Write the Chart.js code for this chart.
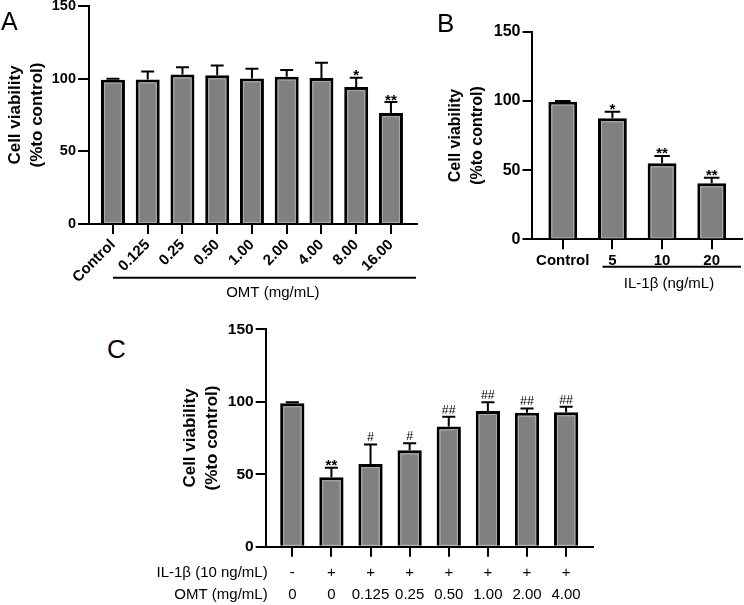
<!DOCTYPE html>
<html>
<head>
<meta charset="utf-8">
<script src="https://cdn.jsdelivr.net/npm/chart.js@4.4.1/dist/chart.umd.min.js"></script>
<style>
    body { margin: 0; background: #fff; }
    #page { position: relative; width: 744px; height: 605px; overflow: hidden; font-family: 'Liberation Sans', Arial, sans-serif; }
    canvas { position: absolute; }
    .letter { position: absolute; color: #000; }
</style>
</head>
<body>
<div id="page">
    <canvas id="chartA" width="420" height="300" style="left:0;top:0;width:420px;height:300px"></canvas>
    <canvas id="chartB" width="324" height="300" style="left:420px;top:0;width:324px;height:300px"></canvas>
    <canvas id="chartC" width="460" height="300" style="left:140px;top:305px;width:460px;height:300px"></canvas>
    <div class="letter" style="left:1px;top:9px;font-size:25px;line-height:25px">A</div>
    <div class="letter" style="left:437px;top:10px;font-size:26px;line-height:26px">B</div>
    <div class="letter" style="left:107px;top:336px;font-size:26px;line-height:26px">C</div>
</div>
<script>
// Shared axis
const yTicks = [0, 50, 100, 150];

// Panel A - OMT alone
const omtDoses = ['Control', '0.125', '0.25', '0.50', '1.00', '2.00', '4.00', '8.00', '16.00'];
const omtMeans = [99.3, 99.5, 102.8, 102.3, 100.2, 101.4, 100.5, 94.3, 76.3];
const omtErrors = [0.6, 5.5, 5.0, 6.7, 6.7, 4.6, 10.5, 6.4, 7.6];
const omtMarks = ['', '', '', '', '', '', '', '*', '**'];

// Panel B - IL-1beta alone
const il1bDoses = ['Control', '5', '10', '20'];
const il1bMeans = [99.4, 87.4, 54.9, 40.5];
const il1bErrors = [0.5, 4.8, 5.3, 4.0];
const il1bMarks = ['', '*', '**', '**'];

// Panel C - IL-1beta + OMT
const rescueIl1b = ['-', '+', '+', '+', '+', '+', '+', '+'];
const rescueOmt = ['0', '0', '0.125', '0.25', '0.50', '1.00', '2.00', '4.00'];
const rescueMeans = [99.0, 47.9, 57.0, 66.5, 83.0, 93.6, 92.4, 92.7];
const rescueErrors = [0.7, 6.6, 13.6, 4.8, 6.7, 6.0, 3.0, 3.9];
const rescueMarks = ['', '**', '#', '#', '##', '##', '##', '##'];

const FONT = "'Liberation Sans', Arial, sans-serif";
Chart.defaults.font.family = FONT;
Chart.defaults.color = '#000';

// Error bars, significance marks and group labels
function marksPlugin(p) {
    return {
        id: 'marks',
        afterDatasetsDraw(chart) {
            const { ctx, chartArea, scales: { x, y } } = chart;
            const bars = chart.getDatasetMeta(0).data;
            ctx.save();
            // light inner edge of each bar
            ctx.strokeStyle = '#ababab';
            ctx.lineWidth = 1;
            bars.forEach((bar) => {
                const w = bar.width;
                ctx.strokeRect(bar.x - w / 2 + 3.5, bar.y + 3.5, w - 7, bar.base - bar.y - 4);
            });
            ctx.strokeStyle = '#000';
            ctx.fillStyle = '#000';
            ctx.lineWidth = 2;
            ctx.textAlign = 'center';
            p.means.forEach((m, i) => {
                const bar = bars[i];
                const top = y.getPixelForValue(m + p.errors[i]);
                const half = bar.width * 0.27;
                ctx.beginPath();
                ctx.moveTo(bar.x, bar.y);
                ctx.lineTo(bar.x, top);
                ctx.moveTo(bar.x - half, top);
                ctx.lineTo(bar.x + half, top);
                ctx.stroke();
                const mark = p.marks[i];
                if (mark) {
                    const star = mark.includes('*');
                    ctx.font = star ? `bold 15px ${FONT}` : `12.5px ${FONT}`;
                    ctx.textBaseline = 'alphabetic';
                    ctx.fillText(mark, bar.x, star ? top + 2.5 : top - 3);
                }
            });
            ctx.font = `15px ${FONT}`;
            ctx.textBaseline = 'middle';
            if (p.group) {
                const g = p.group;
                const ly = chartArea.bottom + g.lineDy;
                ctx.beginPath();
                ctx.moveTo(x.getPixelForValue(g.from), ly);
                ctx.lineTo(chartArea.right - 1, ly);
                ctx.stroke();
                ctx.fillText(g.text, x.getPixelForValue(g.textAt), chartArea.bottom + g.textDy);
            }
            if (p.rows) {
                ctx.textAlign = 'right';
                p.rows.forEach((r, k) => {
                    ctx.fillText(r, chartArea.left + 2, chartArea.bottom + p.rowDy[k]);
                });
            }
            ctx.restore();
        }
    };
}

function buildPanel(id, p) {
    return new Chart(document.getElementById(id), {
        type: 'bar',
        data: {
            datasets: [{
                data: p.means.map((v, i) => ({ x: i, y: v })),
                backgroundColor: '#808080',
                borderColor: '#000',
                borderWidth: 3,
                borderSkipped: 'bottom',
                barPercentage: p.barFrac,
                categoryPercentage: 1
            }]
        },
        options: {
            responsive: false,
            animation: false,
            events: [],
            layout: { padding: p.padding },
            plugins: {
                legend: { display: false },
                tooltip: { enabled: false }
            },
            scales: {
                x: {
                    type: 'linear',
                    bounds: 'data',
                    offset: false,
                    min: p.xMin,
                    max: p.xMax,
                    afterBuildTicks: (s) => { s.ticks = p.labels.map((_, i) => ({ value: i })); },
                    afterFit: (s) => { s.height = p.xHeight; s.paddingLeft = 0; s.paddingRight = 0; },
                    grid: { offset: false, drawOnChartArea: false, tickLength: 10, lineWidth: 2, tickWidth: 2, tickColor: '#000' },
                    border: { width: 2, color: '#000' },
                    ticks: {
                        autoSkip: false,
                        maxRotation: p.rotation,
                        minRotation: p.rotation,
                        padding: p.xPad,
                        color: '#000',
                        font: p.xFont,
                        callback: (v) => p.labels[v]
                    }
                },
                y: {
                    min: 0,
                    max: 150,
                    afterBuildTicks: (s) => { s.ticks = yTicks.map((v) => ({ value: v })); },
                    afterFit: (s) => { s.width = p.yWidth; s.paddingTop = 0; s.paddingBottom = 0; },
                    grid: { drawOnChartArea: false, tickLength: p.yTickLen, lineWidth: 2, tickWidth: 2, tickColor: '#000' },
                    border: { width: 2, color: '#000' },
                    ticks: { padding: 2, color: '#000', font: { size: p.yTickSize, weight: 'bold' } },
                    title: {
                        display: true,
                        text: ['Cell viability', '(%to control)'],
                        color: '#000',
                        font: { size: p.titleSize, weight: 'bold', lineHeight: 22 / p.titleSize },
                        padding: { top: p.titlePad, bottom: 0 }
                    }
                }
            }
        },
        plugins: [marksPlugin(p)]
    });
}

buildPanel('chartA', {
    labels: omtDoses, means: omtMeans, errors: omtErrors, marks: omtMarks,
    padding: { top: 6, right: 3, bottom: 0, left: 0 },
    yWidth: 89, xHeight: 76, xMin: -0.69, xMax: 8.75, barFrac: 0.69,
    rotation: 45, xPad: 2, xFont: { size: 15, weight: 'bold' },
    yTickLen: 11, yTickSize: 14.5, titleSize: 17, titlePad: 4,
    group: { from: 0, lineDy: 53.7, text: 'OMT (mg/mL)', textAt: 4.6, textDy: 69 }
});

buildPanel('chartB', {
    labels: il1bDoses, means: il1bMeans, errors: il1bErrors, marks: il1bMarks,
    padding: { top: 31.7, right: 2, bottom: 0, left: 0 },
    yWidth: 111.5, xHeight: 60.7, xMin: -0.63, xMax: 3.61, barFrac: 0.58,
    rotation: 0, xPad: 3, xFont: { size: 15, weight: 'bold' },
    yTickLen: 9, yTickSize: 16, titleSize: 16, titlePad: 25,
    group: { from: 0.8, lineDy: 27.4, text: 'IL-1β (ng/mL)', textAt: 2.14, textDy: 45 }
});

buildPanel('chartC', {
    labels: rescueOmt.map((v, i) => [rescueIl1b[i], v]),
    means: rescueMeans, errors: rescueErrors, marks: rescueMarks,
    padding: { top: 24.3, right: 7.3, bottom: 0, left: 0 },
    yWidth: 125.7, xHeight: 58.3, xMin: -0.68, xMax: 7.68, barFrac: 0.62,
    rotation: 0, xPad: 5, xFont: { size: 15, lineHeight: 22 / 15 },
    yTickLen: 10, yTickSize: 15.5, titleSize: 17, titlePad: 39,
    rows: ['IL-1β (10 ng/mL)', 'OMT (mg/mL)'], rowDy: [26, 48.3]
});
</script>
</body>
</html>
